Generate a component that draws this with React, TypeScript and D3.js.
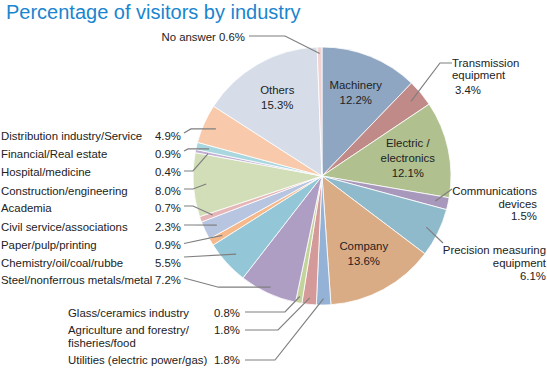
import React from "react";
import * as d3 from "d3";

const categories = [
  "Machinery", "Transmission equipment", "Electric / electronics", "Communications devices",
  "Precision measuring equipment", "Company", "Utilities (electric power/gas)",
  "Agriculture and forestry/fisheries/food", "Glass/ceramics industry", "Steel/nonferrous metals/metal",
  "Chemistry/oil/coal/rubbe", "Paper/pulp/printing", "Civil service/associations", "Academia",
  "Construction/engineering", "Hospital/medicine", "Financial/Real estate",
  "Distribution industry/Service", "Others", "No answer",
];
const values = [12.2, 3.4, 12.1, 1.5, 6.1, 13.6, 1.8, 1.8, 0.8, 7.2, 5.5, 0.9, 2.3, 0.7, 8.0, 0.4, 0.9, 4.9, 15.3, 0.6];
const colors = [
  "#8ea6c2", "#c08a88", "#b0c08f", "#a898bb", "#8ebacb", "#daac85", "#94b2d6", "#d49a99",
  "#c2d49c", "#ae9ec4", "#93c6d6", "#f5b98c", "#b7c5e1", "#e5b5b8", "#d2deb8", "#c2b0d4",
  "#a9d7e0", "#f9c9ab", "#d7dde8", "#f0d2d2",
];

const W = 547, H = 370;
const CX = 322, CY = 176, R = 129;
const FONT = "'Liberation Sans', Arial, sans-serif";
const FS = 11.4;

type Item = [string, number, number, "start" | "end" | "middle"];
type Lbl =
  | { kind: "inside"; lines: string[]; rf: number }
  | { kind: "left"; y: number; sy: number; elbow?: ["S" | "P", number]; f: number }
  | { kind: "custom"; items: Item[]; sx: number; sy: number; elbow?: ["S" | "P", number]; f: number };

const PCT = "%PCT%";
const labels: Lbl[] = [
  { kind: "inside", lines: ["Machinery", PCT], rf: 0.7 },
  { kind: "custom", items: [["Transmission", 452, 63, "start"], ["equipment", 452, 75, "start"], [PCT, 455, 90, "start"]], sx: 452, sy: 63, elbow: ["S", -12], f: 0.9 },
  { kind: "inside", lines: ["Electric /", "electronics", PCT], rf: 0.68 },
  { kind: "custom", items: [["Communications", 537, 191, "end"], ["devices", 537, 203.5, "end"], [PCT, 537, 216, "end"]], sx: 452, sy: 189, f: 0.9 },
  { kind: "custom", items: [["Precision measuring", 546, 250, "end"], ["equipment", 546, 262.5, "end"], [PCT, 546, 276, "end"]], sx: 443, sy: 243, f: 0.9 },
  { kind: "inside", lines: ["Company", PCT], rf: 0.68 },
  { kind: "custom", items: [["Utilities (electric power/gas)", 68, 360, "start"], [PCT, 240, 360, "end"]], sx: 245, sy: 360, elbow: ["S", 30], f: 0.95 },
  { kind: "custom", items: [["Agriculture and forestry/", 68, 330, "start"], ["fisheries/food", 68, 343, "start"], [PCT, 240, 330, "end"]], sx: 245, sy: 330, elbow: ["S", 33], f: 0.95 },
  { kind: "custom", items: [["Glass/ceramics industry", 68, 313, "start"], [PCT, 240, 313, "end"]], sx: 245, sy: 312, elbow: ["S", 40], f: 0.95 },
  { kind: "left", y: 280, sy: 278, elbow: ["P", -52], f: 0.95 },
  { kind: "left", y: 262.5, sy: 257, f: 0.9 },
  { kind: "left", y: 245, sy: 243.5, f: 0.9 },
  { kind: "left", y: 226.5, sy: 225, elbow: ["S", 9], f: 0.9 },
  { kind: "left", y: 208, sy: 206, elbow: ["S", 9], f: 0.9 },
  { kind: "left", y: 190.5, sy: 189, elbow: ["S", 9], f: 0.9 },
  { kind: "left", y: 172, sy: 171, elbow: ["S", 9], f: 0.9 },
  { kind: "left", y: 154, sy: 151, elbow: ["P", -21], f: 0.9 },
  { kind: "left", y: 136, sy: 133, elbow: ["P", -25], f: 0.9 },
  { kind: "inside", lines: ["Others", PCT], rf: 0.7 },
  { kind: "custom", items: [["No answer  " + PCT, 245, 37, "end"]], sx: 249, sy: 36, elbow: ["S", 36], f: 0.95 },
];

export default function App() {
  const data = categories.map((c, i) => ({ c, v: values[i], color: colors[i], i }));
  const pie = d3.pie<any>().sort(null).value((d) => d.v).startAngle(0).endAngle(2 * Math.PI);
  const arcs = pie(data);
  const arc = d3.arc<any>().innerRadius(0).outerRadius(R);
  const pct = (v: number) => `${v.toFixed(1)}%`;
  const pointAt = (a: any, f: number) =>
    d3.arc<any>().innerRadius(R * f).outerRadius(R * f).centroid(a);

  const texts: React.ReactNode[] = [];
  const lines: React.ReactNode[] = [];
  arcs.forEach((a, i) => {
    const L = labels[i];
    const p = pct(values[i]);
    if (L.kind === "inside") {
      const [x, y] = pointAt(a, L.rf);
      const lh = 15;
      const n = L.lines.length;
      L.lines.forEach((t, k) => {
        texts.push(
          <text key={`in${i}-${k}`} x={CX + x} y={CY + y + (k - (n - 1) / 2) * lh} textAnchor="middle" dominantBaseline="central">
            {t === PCT ? p : t}
          </text>
        );
      });
      return;
    }
    let items: Item[];
    let sx: number, sy: number;
    if (L.kind === "left") {
      items = [[categories[i], 1, L.y, "start"], [PCT, 181, L.y, "end"]];
      sx = 184; sy = L.sy;
    } else {
      items = L.items; sx = L.sx; sy = L.sy;
    }
    items.forEach(([t, x, y, anc], k) => {
      texts.push(
        <text key={`t${i}-${k}`} x={x} y={y} textAnchor={anc} dominantBaseline="central">
          {t.replace(PCT, p)}
        </text>
      );
    });
    const [px0, py0] = pointAt(a, L.f);
    const px = CX + px0, py = CY + py0;
    const pts: [number, number][] = [[sx, sy]];
    if (L.elbow) {
      if (L.elbow[0] === "S") pts.push([sx + L.elbow[1], sy]);
      else pts.push([px + L.elbow[1], py]);
    }
    pts.push([px, py]);
    lines.push(
      <path key={`l${i}`} d={d3.line()(pts) || ""} fill="none" stroke="#7f7f7f" strokeWidth={1.2} />
    );
  });

  return (
    <svg width={W} height={H} style={{ position: "absolute", left: 0, top: 0, background: "#fff" }}>
      <text x={6} y={18.5} fontFamily={FONT} fontSize={20} fill="#1a85cf">
        Percentage of visitors by industry
      </text>
      <g transform={`translate(${CX},${CY})`}>
        {arcs.map((a, i) => (
          <path key={i} d={arc(a) || ""} fill={colors[i]} stroke="#fff" strokeWidth={0.8} />
        ))}
      </g>
      {lines}
      <g fontFamily={FONT} fontSize={FS} fill="#222">
        {texts}
      </g>
    </svg>
  );
}
